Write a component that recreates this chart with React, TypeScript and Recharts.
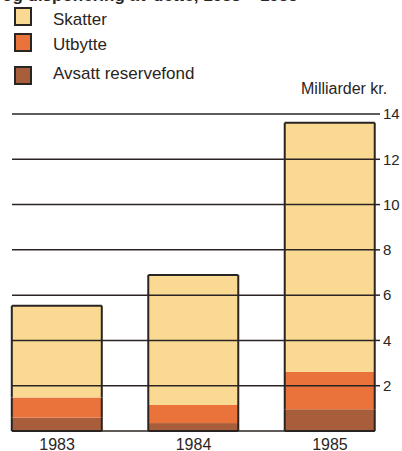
import React from "react";
import { BarChart, Bar, XAxis, YAxis, ReferenceLine, Legend } from "recharts";

const years = [1983, 1984, 1985];
const skatter = [4.05, 5.74, 11.0];
const utbytte = [0.89, 0.8, 1.65];
const reservefond = [0.59, 0.35, 0.96];
const yTicks = [2, 4, 6, 8, 10, 12, 14];
const gridValues = [0, 2, 4, 6, 8, 10, 12, 14];

const seriesNames = ["Skatter", "Utbytte", "Avsatt reservefond"];
const colors = {
    skatter: "#FAD993",
    utbytte: "#E9733A",
    reservefond: "#A85E3B",
};
const ink = "#2a2522";
const font = "'Liberation Sans', Arial, sans-serif";

const data = years.map((year, i) => ({
    year,
    reservefond: reservefond[i],
    utbytte: utbytte[i],
    skatter: skatter[i],
}));

// draws one stacked segment; only the outer edges of the whole column get a border
const segmentShape = (edge: "bottom" | "middle" | "top") => (props: any) => {
    const { x, y, width, height, fill } = props;
    if (!height) return null;
    const lines: string[] = [`M${x},${y}V${y + height}`, `M${x + width},${y}V${y + height}`];
    if (edge === "bottom") lines.push(`M${x},${y + height}H${x + width}`);
    if (edge === "top") lines.push(`M${x},${y}H${x + width}`);
    return (
        <g>
            <rect x={x} y={y} width={width} height={height} fill={fill} />
            <path d={lines.join("")} stroke={ink} strokeWidth={2} fill="none" />
        </g>
    );
};

function LegendBox() {
    const items = [
        { name: seriesNames[0], color: colors.skatter, boxTop: 7, textTop: 10 },
        { name: seriesNames[1], color: colors.utbytte, boxTop: 33, textTop: 35 },
        { name: seriesNames[2], color: colors.reservefond, boxTop: 66, textTop: 64 },
    ];
    return (
        <div style={{ position: "relative", width: 402, height: 100, fontFamily: font, color: ink }}>
            <div
                style={{
                    position: "absolute",
                    left: 2,
                    top: -14,
                    fontSize: 17,
                    fontWeight: "bold",
                    whiteSpace: "nowrap",
                }}
            >
                og disponering av dette, 1983 – 1985
            </div>
            {items.map((it) => (
                <React.Fragment key={it.name}>
                    <span
                        style={{
                            position: "absolute",
                            left: 14,
                            top: it.boxTop,
                            width: 14,
                            height: 15,
                            background: it.color,
                            border: `2px solid ${ink}`,
                        }}
                    />
                    <span
                        style={{
                            position: "absolute",
                            left: 53,
                            top: it.textTop,
                            fontSize: 17,
                            whiteSpace: "nowrap",
                            lineHeight: "20px",
                        }}
                    >
                        {it.name}
                    </span>
                </React.Fragment>
            ))}
            <div
                style={{
                    position: "absolute",
                    left: 301,
                    top: 80,
                    fontSize: 16,
                    whiteSpace: "nowrap",
                }}
            >
                Milliarder kr.
            </div>
        </div>
    );
}

export default function App() {
    return (
        <div style={{ position: "absolute", left: 0, top: 0, background: "#fff" }}>
            <BarChart
                width={402}
                height={451}
                data={data}
                margin={{ top: 14, right: 0, bottom: 0, left: 12 }}
                barSize={90}
            >
                <XAxis
                    dataKey="year"
                    type="number"
                    domain={[1982.67, 1985.33]}
                    ticks={years}
                    interval={0}
                    axisLine={false}
                    tickLine={false}
                    tickSize={0}
                    tickMargin={8}
                    height={20}
                    tick={{ fill: ink, fontSize: 16, fontFamily: font }}
                />
                <YAxis
                    orientation="right"
                    domain={[0, 14]}
                    ticks={yTicks}
                    interval={0}
                    width={27}
                    axisLine={false}
                    tickLine={{ stroke: ink, strokeWidth: 1.5 }}
                    tickSize={5}
                    tickMargin={3}
                    tick={{ fill: ink, fontSize: 15, fontFamily: font, textAnchor: "start" }}
                />
                <Legend
                    verticalAlign="top"
                    wrapperStyle={{ position: "absolute", top: 0, left: 0, width: 402, height: 100 }}
                    content={() => <LegendBox />}
                />
                <Bar
                    dataKey="reservefond"
                    name={seriesNames[2]}
                    stackId="a"
                    fill={colors.reservefond}
                    shape={segmentShape("bottom")}
                    isAnimationActive={false}
                />
                <Bar
                    dataKey="utbytte"
                    name={seriesNames[1]}
                    stackId="a"
                    fill={colors.utbytte}
                    shape={segmentShape("middle")}
                    isAnimationActive={false}
                />
                <Bar
                    dataKey="skatter"
                    name={seriesNames[0]}
                    stackId="a"
                    fill={colors.skatter}
                    shape={segmentShape("top")}
                    isAnimationActive={false}
                />
                {gridValues.map((v) => (
                    <ReferenceLine key={v} y={v} stroke={ink} strokeWidth={1.5} />
                ))}
            </BarChart>
        </div>
    );
}
